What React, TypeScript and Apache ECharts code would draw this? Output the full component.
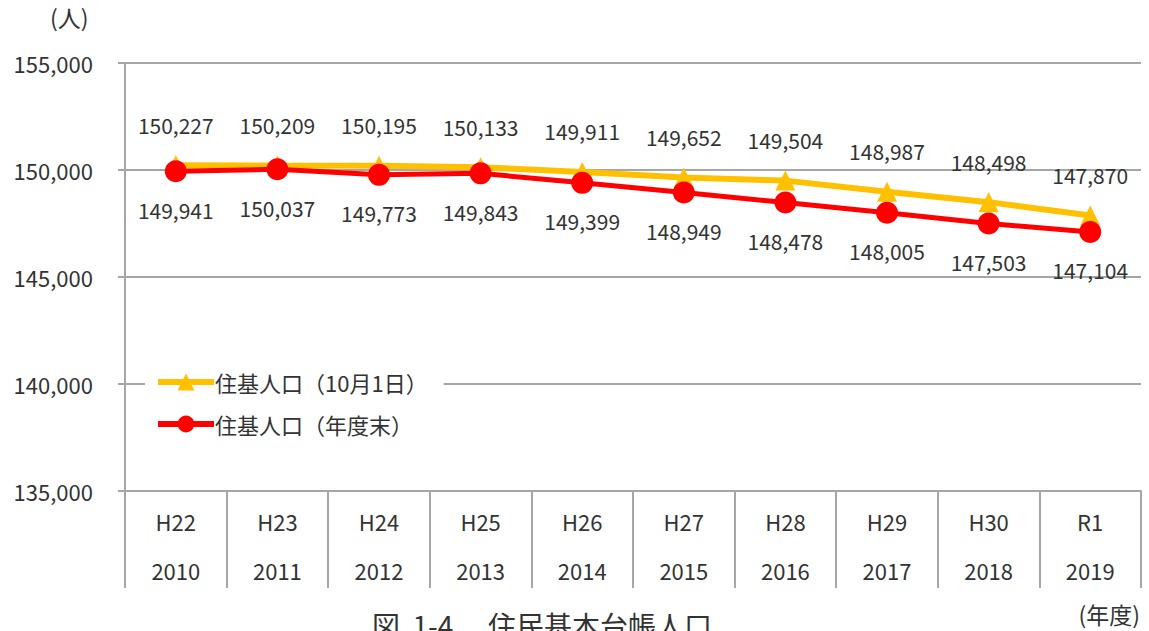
import React, { useEffect, useRef } from "react";
import * as echarts from "echarts";

const eraLabels = ["H22", "H23", "H24", "H25", "H26", "H27", "H28", "H29", "H30", "R1"];
const yearLabels = ["2010", "2011", "2012", "2013", "2014", "2015", "2016", "2017", "2018", "2019"];
const oct1Values = [150227, 150209, 150195, 150133, 149911, 149652, 149504, 148987, 148498, 147870];
const yearEndValues = [149941, 150037, 149773, 149843, 149399, 148949, 148478, 148005, 147503, 147104];
const seriesNames = ["住基人口（10月1日）", "住基人口（年度末）"];

const FONT = "'Noto Sans CJK JP', 'Noto Sans', sans-serif";
const TEXT = "#333333";
const GRID = "#a6a6a6";

export default function App() {
  const ref = useRef<HTMLDivElement>(null);
  useEffect(() => {
    if (!ref.current) return;
    const chart = echarts.init(ref.current, null, { renderer: "svg" });
    const categories = eraLabels.map((e, i) => e + "\n" + yearLabels[i]);
    const fmt = (v: number) => v.toLocaleString("en-US");
    chart.setOption({
      animation: false,
      backgroundColor: "#ffffff",
      textStyle: { fontFamily: FONT },
      grid: { left: 125, right: 8, top: 63, bottom: 140, containLabel: false },
      legend: {
        orient: "vertical",
        left: 145,
        top: 365,
        itemWidth: 56,
        itemHeight: 21,
        itemGap: 20,
        padding: [6, 16, 6, 10],
        backgroundColor: "#ffffff",
        lineStyle: { width: 6 },
        textStyle: { fontSize: 22, color: TEXT, fontFamily: FONT, padding: [0, 0, 0, -4] },
        data: seriesNames,
      },
      xAxis: {
        type: "category",
        data: categories,
        boundaryGap: true,
        axisLine: { show: true, lineStyle: { color: GRID, width: 2 } },
        axisTick: { show: true, length: 97, interval: 0, lineStyle: { color: GRID, width: 2 } },
        axisLabel: {
          interval: 0,
          fontSize: 22,
          lineHeight: 49,
          color: TEXT,
          margin: 5,
          fontFamily: FONT,
        },
        splitLine: { show: false },
      },
      yAxis: {
        type: "value",
        min: 135000,
        max: 155000,
        interval: 5000,
        axisLine: { show: true, lineStyle: { color: GRID, width: 2 } },
        axisTick: { show: true, length: 7, lineStyle: { color: GRID, width: 2 } },
        axisLabel: {
          fontSize: 22,
          color: TEXT,
          margin: 32,
          fontFamily: FONT,
          formatter: (v: number) => fmt(v),
        },
        splitLine: { show: true, lineStyle: { color: GRID, width: 2 } },
      },
      series: [
        {
          name: seriesNames[0],
          type: "line",
          data: oct1Values,
          color: "#FFC000",
          lineStyle: { width: 6, color: "#FFC000" },
          symbol: "triangle",
          symbolSize: 20,
          itemStyle: { color: "#FFC000" },
          label: {
            show: true,
            position: "top",
            distance: 20,
            fontSize: 21,
            color: TEXT,
            fontFamily: FONT,
            formatter: (p: any) => fmt(p.value),
          },
          z: 2,
        },
        {
          name: seriesNames[1],
          type: "line",
          data: yearEndValues,
          color: "#FF0000",
          lineStyle: { width: 5, color: "#FF0000" },
          symbol: "circle",
          symbolSize: 22,
          itemStyle: { color: "#FF0000" },
          label: {
            show: true,
            position: "bottom",
            distance: 17,
            fontSize: 21,
            color: TEXT,
            fontFamily: FONT,
            formatter: (p: any) => fmt(p.value),
          },
          z: 3,
        },
      ],
      graphic: [
        {
          type: "text",
          left: 50,
          top: 5,
          style: { text: "(人)", fontSize: 23, fill: TEXT, fontFamily: FONT },
        },
        {
          type: "text",
          right: 9,
          top: 602,
          style: { text: "(年度)", fontSize: 23, fill: TEXT, fontFamily: FONT },
        },
        {
          type: "text",
          left: 372,
          top: 611,
          style: { text: "図  1-4", fontSize: 28, fill: TEXT, fontFamily: FONT },
        },
        {
          type: "text",
          left: 488,
          top: 611,
          style: { text: "住民基本台帳人口", fontSize: 28, fill: TEXT, fontFamily: FONT },
        },
      ],
    });
    return () => chart.dispose();
  }, []);
  return (
    <div
      ref={ref}
      style={{ position: "absolute", left: 0, top: 0, width: 1149, height: 631 }}
    />
  );
}
